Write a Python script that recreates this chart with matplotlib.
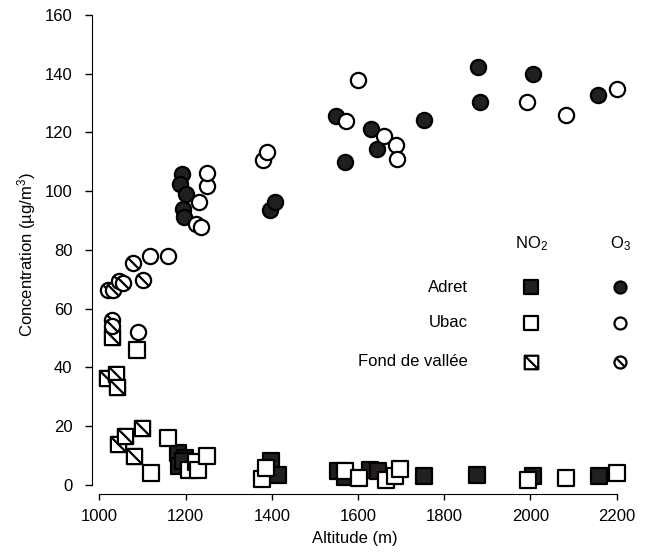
import numpy as np
import matplotlib
matplotlib.use("Agg")
import matplotlib.pyplot as plt
from matplotlib.path import Path

plt.rcParams['font.family'] = ['Liberation Sans', 'DejaVu Sans']
plt.rcParams['mathtext.fontset'] = 'custom'
plt.rcParams['mathtext.rm'] = 'Liberation Sans'
plt.rcParams['mathtext.it'] = 'Liberation Sans'

# NO2 (squares)
adret_no2_x = [1183, 1198, 1185, 1193, 1399, 1414, 1553, 1569, 1627, 1647, 1752, 1877, 2006, 2159]
adret_no2_y = [11.0, 9.2, 6.6, 8.0, 8.3, 3.4, 4.9, 2.6, 5.1, 4.9, 3.1, 3.4, 3.1, 3.1]
ubac_no2_x = [1088, 1121, 1160, 1208, 1225, 1229, 1249, 1378, 1386, 1570, 1603, 1664, 1685, 1698,
              1995, 2082, 2200]
ubac_no2_y = [45.9, 4.2, 16.1, 5.1, 7.9, 5.1, 10.0, 1.9, 5.7, 4.8, 2.3, 1.7, 3.1, 5.4,
              1.7, 2.3, 4.2]
fond_no2_x = [1029, 1017, 1039, 1042, 1044, 1059, 1081, 1100]
fond_no2_y = [50.2, 36.3, 37.6, 33.4, 13.8, 16.8, 9.9, 19.5]

# O3 (circles)
adret_o3_x = [1191, 1188, 1202, 1194, 1196, 1397, 1407, 1548, 1569, 1630, 1644, 1752,
              1879, 1884, 2005, 2157]
adret_o3_y = [106.0, 102.6, 99.0, 93.8, 91.3, 93.5, 96.4, 125.5, 110.0, 121.3, 114.3, 124.1,
              142.3, 130.4, 140.0, 132.9]
ubac_o3_x = [1090, 1117, 1160, 1224, 1231, 1235, 1250, 1250, 1380, 1388, 1573, 1600, 1661,
             1687, 1690, 1993, 2083, 2200]
ubac_o3_y = [52.1, 77.9, 77.9, 88.8, 96.2, 87.7, 101.7, 106.2, 110.5, 113.4, 123.9, 137.8, 118.8,
             115.6, 111.1, 130.4, 126.1, 134.7]
fond_o3_x = [1021, 1032, 1046, 1056, 1079, 1102, 1029, 1029]
fond_o3_y = [66.3, 66.3, 69.5, 68.8, 75.6, 69.7, 56.1, 54.1]

groups = ['Adret', 'Ubac', 'Fond de vallée']

# hatched markers: shape + diagonal stroke
diag = Path([(-1, 1), (1, -1)], [Path.MOVETO, Path.LINETO])
sq = Path([(-1, -1), (1, -1), (1, 1), (-1, 1), (-1, -1)],
          [Path.MOVETO, Path.LINETO, Path.LINETO, Path.LINETO, Path.CLOSEPOLY])
hatched_sq = Path.make_compound_path(sq, diag)
circ = Path.unit_circle()
diag_c = Path([(-0.707, 0.707), (0.707, -0.707)], [Path.MOVETO, Path.LINETO])
hatched_circ = Path.make_compound_path(circ, diag_c)

dark = '#231f20'
lw = 1.6
S = 120
fs = 12

fig = plt.figure(figsize=(6.52, 5.6), dpi=100)
ax = fig.add_axes([92 / 652, 66 / 560, 526 / 652, 479 / 560])

kw = dict(s=S, linewidths=lw, edgecolors='black', clip_on=False, zorder=3)
ax.scatter(adret_no2_x, adret_no2_y, marker='s', facecolors=dark, **kw)
ax.scatter(adret_o3_x, adret_o3_y, marker='o', facecolors=dark, **kw)
ax.scatter(ubac_no2_x, ubac_no2_y, marker='s', facecolors='white', **kw)
ax.scatter(ubac_o3_x, ubac_o3_y, marker='o', facecolors='white', **kw)
ax.scatter(fond_no2_x, fond_no2_y, marker=hatched_sq, facecolors='white', **kw)
ax.scatter(fond_o3_x, fond_o3_y, marker=hatched_circ, facecolors='white', **kw)

ax.set_xlim(983, 2203)
ax.set_ylim(-3.1, 160)
ax.spines['top'].set_visible(False)
ax.spines['right'].set_visible(False)
ax.spines['bottom'].set_bounds(1000, 2200)
ax.spines['left'].set_bounds(0, 160)
ax.set_xticks(np.arange(1000, 2201, 200))
ax.set_yticks(np.arange(0, 161, 20))
ax.tick_params(axis='x', direction='out', length=4, width=1, labelsize=fs, pad=7)
ax.tick_params(axis='y', direction='out', length=5, width=1, labelsize=fs, pad=9)
ax.set_xlabel('Altitude (m)', fontsize=fs, labelpad=5)
ax.set_ylabel(r'Concentration (µg/m$^\mathregular{3}$)', fontsize=fs, labelpad=5)

# manual legend table
col_no2, col_o3 = 0.835, 1.004
rows = [0.432, 0.357, 0.276]
ax.text(col_no2, 0.522, r'NO$_\mathregular{2}$', transform=ax.transAxes, fontsize=fs,
        ha='center', va='center')
ax.text(col_o3, 0.522, r'O$_\mathregular{3}$', transform=ax.transAxes, fontsize=fs,
        ha='center', va='center')
lkw = dict(linewidths=lw, edgecolors='black', clip_on=False, zorder=3,
           transform=ax.transAxes)
faces = [dark, 'white', 'white']
sq_marks = ['s', 's', hatched_sq]
ci_marks = ['o', 'o', hatched_circ]
for g, yy, fc, ms, mc in zip(groups, rows, faces, sq_marks, ci_marks):
    ax.text(0.715, yy, g, transform=ax.transAxes, fontsize=fs, ha='right', va='center')
    ax.scatter([col_no2], [yy], marker=ms, facecolors=fc, s=95, **lkw)
    ax.scatter([col_o3], [yy], marker=mc, facecolors=fc, s=75, **lkw)

fig.savefig('out.png', dpi=100)
